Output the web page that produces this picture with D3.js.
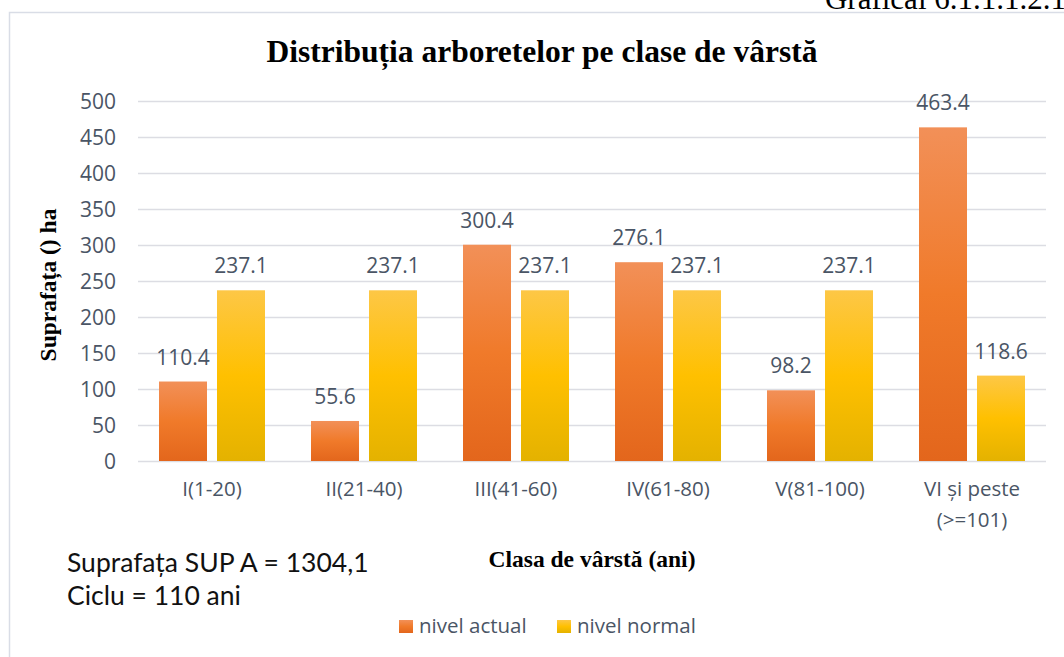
<!DOCTYPE html>
<html lang="ro">
<head>
  <meta charset="UTF-8">
  <title>Distribuția arboretelor pe clase de vârstă</title>
  <script src="https://d3js.org/d3.v7.min.js"></script>
  <style>
    body { margin: 0; background: #fff; }
    svg { display: block; }
    .tick text { font-family: "Open Sans", "Noto Sans", sans-serif; fill: #4a5565; }
    .serif { font-family: "Liberation Serif", "DejaVu Serif", serif; font-weight: bold; fill: #000; }
  </style>
</head>
<body>
<svg width="1064" height="657"></svg>
<script>
  // data
  const categories = ["I(1-20)", "II(21-40)", "III(41-60)", "IV(61-80)", "V(81-100)", "VI şi peste\n(>=101)"];
  const nivelActual = [110.4, 55.6, 300.4, 276.1, 98.2, 463.4];
  const nivelNormal = [237.1, 237.1, 237.1, 237.1, 237.1, 118.6];
  const seriesNames = ["nivel actual", "nivel normal"];
  const yTicks = [0, 50, 100, 150, 200, 250, 300, 350, 400, 450, 500];

  const svg = d3.select("svg");
  const margin = { left: 136, right: 16, top: 101, bottom: 196 };
  const W = 1064, H = 657;
  const sans = "'Open Sans', 'Noto Sans', sans-serif";

  // gradients
  const defs = svg.append("defs");
  const grads = [
    { id: "gOrange", stops: ["#f29058", "#f07a2a", "#e3661c"] },
    { id: "gYellow", stops: ["#fdc746", "#ffc000", "#e4b200"] }
  ];
  grads.forEach(g => {
    const lg = defs.append("linearGradient").attr("id", g.id)
      .attr("x1", 0).attr("y1", 0).attr("x2", 0).attr("y2", 1);
    lg.append("stop").attr("offset", "0%").attr("stop-color", g.stops[0]);
    lg.append("stop").attr("offset", "50%").attr("stop-color", g.stops[1]);
    lg.append("stop").attr("offset", "100%").attr("stop-color", g.stops[2]);
  });
  const fills = ["url(#gOrange)", "url(#gYellow)"];

  // frame + caption at top right (cut off in the source too)
  svg.append("path").attr("d", `M9.5,${H} V12.5 H${W}`)
    .attr("fill", "none").attr("stroke", "#d9dde6").attr("stroke-width", 1.5);
  svg.append("text").attr("x", 1066).attr("y", 9)
    .attr("text-anchor", "end").attr("font-size", 31)
    .attr("font-family", "'Liberation Serif', serif").attr("fill", "#000")
    .text("Grafical 6.1.1.1.2.1");

  const x0 = d3.scaleBand().domain(categories).range([margin.left, W - margin.right]).padding(0);
  const y = d3.scaleLinear().domain([0, 500]).range([H - margin.bottom, margin.top]);
  const barW = 48, gap = 10;

  // gridlines
  svg.append("g").selectAll("line").data(yTicks).join("line")
    .attr("x1", margin.left + 2).attr("x2", W - margin.right - 2)
    .attr("y1", d => y(d) + 0.5).attr("y2", d => y(d) + 0.5)
    .attr("stroke", "#dcdde3").attr("stroke-width", 1.3);

  // y axis
  const yAxis = svg.append("g").attr("transform", `translate(${margin.left - 14},0)`)
    .call(d3.axisLeft(y).tickValues(yTicks).tickSize(0).tickPadding(6));
  yAxis.select(".domain").remove();
  yAxis.selectAll("text").attr("font-size", 21).attr("dy", "0.35em");

  // x axis labels
  const xAxis = svg.append("g").attr("transform", `translate(0,${y(0) + 35})`);
  categories.forEach(c => {
    const cx = x0(c) + x0.bandwidth() / 2;
    const t = xAxis.append("text").attr("x", cx)
      .attr("text-anchor", "middle").attr("font-size", 20.5)
      .attr("font-family", sans).attr("fill", "#4a5565");
    c.split("\n").forEach((line, i) => {
      t.append("tspan").attr("x", cx).attr("dy", i ? 31 : 0).text(line);
    });
  });

  // bars
  const series = [nivelActual, nivelNormal];
  series.forEach((vals, si) => {
    const g = svg.append("g");
    const xPos = (d, i) => x0(categories[i]) + x0.bandwidth() / 2 + (si === 0 ? -(barW + gap / 2) : gap / 2);
    g.selectAll("rect").data(vals).join("rect")
      .attr("x", xPos).attr("width", barW)
      .attr("y", d => y(d)).attr("height", d => y(0) - y(d))
      .attr("fill", fills[si]);
    g.selectAll("text").data(vals).join("text")
      .attr("x", (d, i) => xPos(d, i) + barW / 2).attr("y", d => y(d) - 17)
      .attr("text-anchor", "middle").attr("font-size", 21)
      .attr("font-family", sans).attr("fill", "#4a5565")
      .text(d => d.toFixed(1));
  });

  // titles
  svg.append("text").attr("class", "serif").attr("x", 542).attr("y", 62)
    .attr("text-anchor", "middle").attr("font-size", 31.5)
    .text("Distribuția arboretelor pe clase de vârstă");
  svg.append("text").attr("class", "serif")
    .attr("transform", `translate(56,285) rotate(-90)`)
    .attr("text-anchor", "middle").attr("font-size", 23.5).text("Suprafața () ha");
  svg.append("text").attr("class", "serif").attr("x", 592).attr("y", 567)
    .attr("text-anchor", "middle").attr("font-size", 23.5).text("Clasa de vârstă (ani)");

  // notes
  const notes = ["Suprafața SUP A = 1304,1", "Ciclu = 110 ani"];
  svg.append("g").selectAll("text").data(notes).join("text")
    .attr("x", 67).attr("y", (d, i) => 572 + i * 33)
    .attr("font-size", 26.5).attr("font-family", "Lato, 'Open Sans', sans-serif")
    .attr("fill", "#111").text(d => d);

  // legend
  const legX = [399, 557];
  const leg = svg.append("g");
  seriesNames.forEach((n, i) => {
    leg.append("rect").attr("x", legX[i]).attr("y", 620).attr("width", 14).attr("height", 13)
      .attr("fill", fills[i]);
    leg.append("text").attr("x", legX[i] + 20).attr("y", 633)
      .attr("font-size", 20.5).attr("font-family", sans)
      .attr("fill", "#4a5565").text(n);
  });
</script>
</body>
</html>
